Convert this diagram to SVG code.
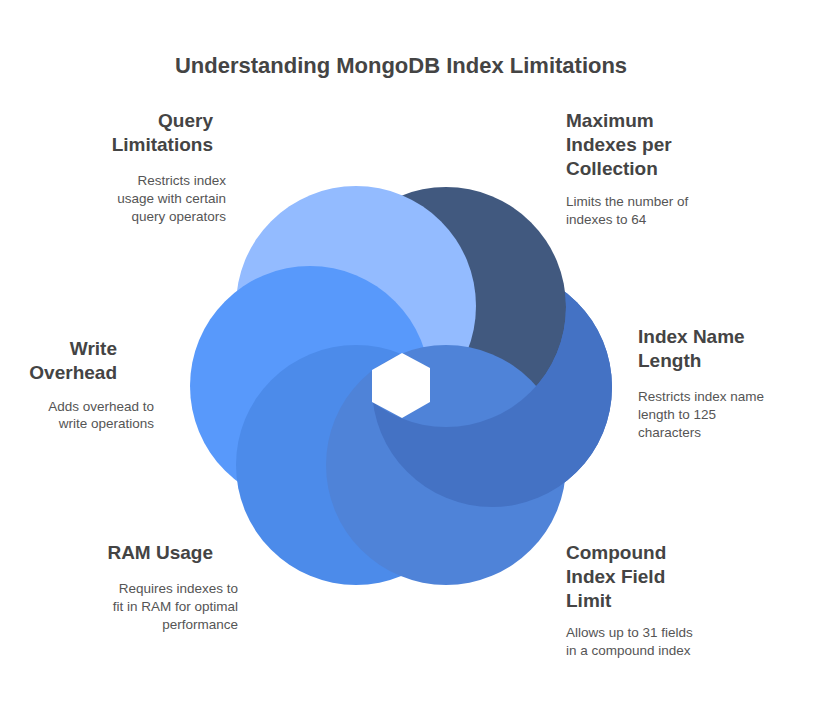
<svg xmlns="http://www.w3.org/2000/svg" width="816" height="709" viewBox="0 0 816 709">
<style>
.t{font-family:"Liberation Sans",Arial,sans-serif;font-weight:bold;font-size:19px;fill:#444}
.d{font-family:"Liberation Sans",Arial,sans-serif;font-size:13.5px;fill:#555}
.r{text-anchor:end}
</style>
<defs>
<mask id="m" maskUnits="userSpaceOnUse" x="0" y="0" width="816" height="709">
<rect width="816" height="709" fill="#fff"/>
<circle cx="446" cy="307" r="120" fill="#000"/>
</mask>
</defs>
<rect width="816" height="709" fill="#fff"/>
<text x="401" y="73" text-anchor="middle" style="font-family:'Liberation Sans',Arial,sans-serif;font-weight:bold;font-size:22px;fill:#444">Understanding MongoDB Index Limitations</text>
<g id="shapes">
<circle id="c-index" cx="492" cy="387" r="120" fill="#4472C4"/>
<circle id="c-max" cx="446" cy="307" r="120" fill="#41597F"/>
<circle id="c-query" cx="356" cy="306" r="120" fill="#93BBFF"/>
<circle id="c-write" cx="310" cy="386" r="120" fill="#5899FB"/>
<circle id="c-ram" cx="356" cy="465" r="120" fill="#4C8BEA"/>
<circle id="c-compound" cx="446" cy="465" r="120" fill="#4F83D8"/>
<circle cx="492" cy="387" r="120" fill="#4472C4" mask="url(#m)"/>
<polygon points="402,353 430,368 430,402 402,418 372,402 372,370" fill="#fff"/>
</g>
<g id="query">
<text class="t r" x="213" y="127">Query</text>
<text class="t r" x="213" y="151">Limitations</text>
<text class="d r" x="226" y="185">Restricts index</text>
<text class="d r" x="226" y="203">usage with certain</text>
<text class="d r" x="226" y="221">query operators</text>
</g>
<g id="maximum">
<text class="t" x="566" y="127">Maximum</text>
<text class="t" x="566" y="151">Indexes per</text>
<text class="t" x="566" y="175">Collection</text>
<text class="d" x="566" y="206">Limits the number of</text>
<text class="d" x="566" y="224">indexes to 64</text>
</g>
<g id="indexname">
<text class="t" x="638" y="343">Index Name</text>
<text class="t" x="638" y="367">Length</text>
<text class="d" x="638" y="401">Restricts index name</text>
<text class="d" x="638" y="419">length to 125</text>
<text class="d" x="638" y="437">characters</text>
</g>
<g id="write">
<text class="t r" x="117" y="355">Write</text>
<text class="t r" x="117" y="379">Overhead</text>
<text class="d r" x="154" y="411">Adds overhead to</text>
<text class="d r" x="154" y="428">write operations</text>
</g>
<g id="ram">
<text class="t r" x="213" y="559">RAM Usage</text>
<text class="d r" x="238" y="593">Requires indexes to</text>
<text class="d r" x="238" y="611">fit in RAM for optimal</text>
<text class="d r" x="238" y="629">performance</text>
</g>
<g id="compound">
<text class="t" x="566" y="559">Compound</text>
<text class="t" x="566" y="583">Index Field</text>
<text class="t" x="566" y="607">Limit</text>
<text class="d" x="566" y="637">Allows up to 31 fields</text>
<text class="d" x="566" y="655">in a compound index</text>
</g>
<g id="connectors"/>
</svg>
